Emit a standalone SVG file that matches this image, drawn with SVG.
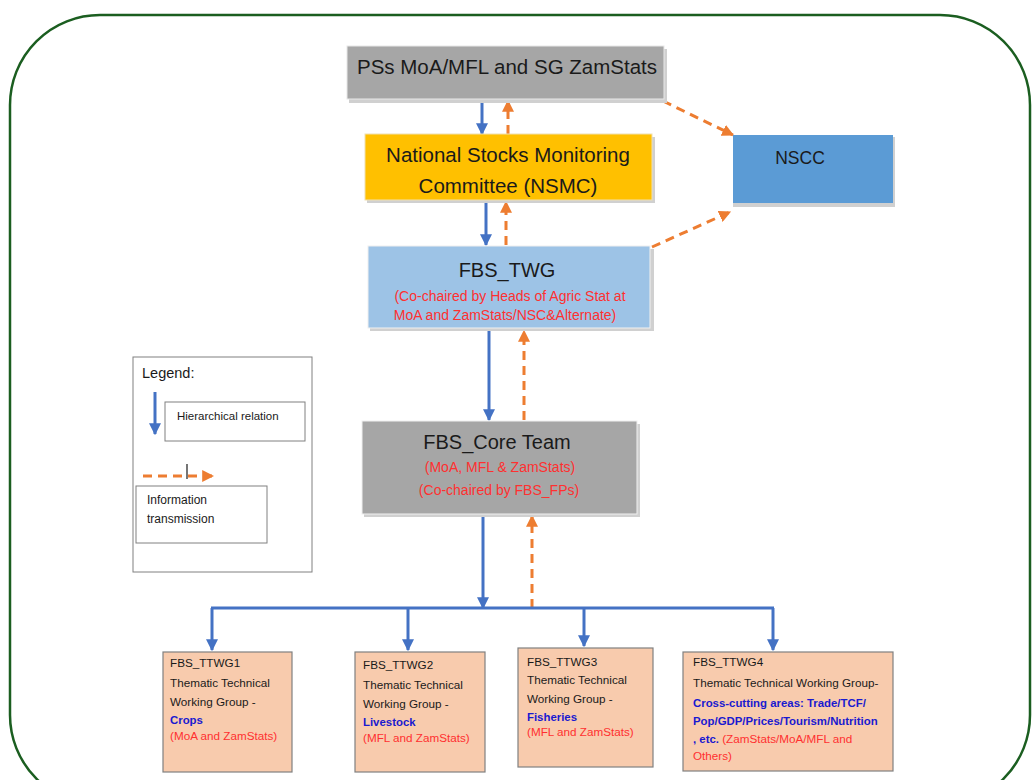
<svg xmlns="http://www.w3.org/2000/svg" width="1036" height="780" viewBox="0 0 1036 780">
<defs>
<marker id="ab" viewBox="0 0 10 10" refX="9" refY="5" markerWidth="4" markerHeight="4" orient="auto" markerUnits="strokeWidth"><path d="M0,0 L10,5 L0,10 z" fill="#4472c4"/></marker>
<marker id="ao" viewBox="0 0 10 10" refX="9" refY="5" markerWidth="4" markerHeight="4" orient="auto" markerUnits="strokeWidth"><path d="M0,0 L10,5 L0,10 z" fill="#ed7d31"/></marker>
</defs>
<style>
text{font-family:"Liberation Sans",Arial,sans-serif;}
.hier{stroke:#4472c4;stroke-width:3;fill:none;}
.info{stroke:#ed7d31;stroke-width:3;fill:none;stroke-dasharray:9 6;}
.title{font-size:20.5px;fill:#1a1a1a;text-anchor:middle;}
.big{font-size:20px;fill:#1a1a1a;text-anchor:middle;}
.red{font-size:14px;fill:#ff3030;text-anchor:middle;}
.sm{font-size:11.7px;fill:#1a1a1a;}
.smb{font-size:11.4px;fill:#1a1ad0;font-weight:bold;}
.smr{fill:#ff3030;font-weight:normal;}
.wg{fill:#f8cbad;stroke:#808080;stroke-width:1.2;}
.shadow{fill:#d0d0d0;}
</style>
<rect x="10" y="15" width="1020" height="790" rx="90" ry="90" fill="#ffffff" stroke="#1b5e20" stroke-width="2.5"/>

<g id="connectors">
<line class="hier" x1="482" y1="101" x2="482" y2="134" marker-end="url(#ab)"/>
<line class="info" x1="508" y1="134" x2="508" y2="101" marker-end="url(#ao)"/>
<line class="hier" x1="486" y1="202" x2="486" y2="245" marker-end="url(#ab)"/>
<line class="info" x1="506" y1="245" x2="506" y2="202" marker-end="url(#ao)"/>
<line class="info" x1="663" y1="101" x2="733" y2="135" marker-end="url(#ao)"/>
<line class="info" x1="652" y1="247" x2="730" y2="212" marker-end="url(#ao)"/>
<line class="hier" x1="489" y1="330" x2="489" y2="420" marker-end="url(#ab)"/>
<line class="info" x1="524" y1="420" x2="524" y2="331" marker-end="url(#ao)"/>
<line class="hier" x1="483" y1="515" x2="483" y2="608" marker-end="url(#ab)"/>
<line class="info" x1="532" y1="608" x2="532" y2="516" marker-end="url(#ao)"/>
<line class="hier" x1="211" y1="608" x2="774" y2="608"/>
<line class="hier" x1="212" y1="608" x2="212" y2="650" marker-end="url(#ab)"/>
<line class="hier" x1="408" y1="608" x2="408" y2="650" marker-end="url(#ab)"/>
<line class="hier" x1="584" y1="608" x2="584" y2="646" marker-end="url(#ab)"/>
<line class="hier" x1="773" y1="608" x2="773" y2="650" marker-end="url(#ab)"/>
</g>

<g id="pss">
<rect class="shadow" x="349" y="49" width="318" height="54"/>
<rect x="347" y="46" width="317" height="53" fill="#a6a6a6" stroke="#e8e8e8" stroke-width="1"/>
<text class="title" x="507" y="74" font-size="19.5">PSs MoA/MFL and SG ZamStats</text>
</g>

<g id="nsmc">
<rect class="shadow" x="367" y="137" width="288" height="66"/>
<rect x="365" y="134" width="287" height="66" fill="#ffc000" stroke="#f0e0b0" stroke-width="1"/>
<text class="title" x="508" y="162">National Stocks Monitoring</text>
<text class="title" x="508" y="193">Committee (NSMC)</text>
</g>

<g id="nscc">
<rect class="shadow" x="733" y="137" width="162" height="70"/>
<rect x="733" y="135" width="160" height="68" fill="#5b9bd5"/>
<text x="800" y="164" font-size="17.5" fill="#1a1a1a" text-anchor="middle">NSCC</text>
</g>

<g id="fbs_twg">
<rect class="shadow" x="370" y="249" width="284" height="82"/>
<rect x="368" y="246" width="282" height="82" fill="#9dc3e6" stroke="#f0f0f0" stroke-width="1"/>
<text class="big" x="507" y="277">FBS_TWG</text>
<text class="red" x="510" y="301">(Co-chaired by Heads of Agric Stat at</text>
<text class="red" x="505" y="320">MoA and ZamStats/NSC&amp;Alternate)</text>
</g>

<g id="core">
<rect class="shadow" x="364" y="424" width="276" height="93"/>
<rect x="362" y="421" width="275" height="93" fill="#a6a6a6" stroke="#f0f0f0" stroke-width="1"/>
<text class="big" x="497" y="449">FBS_Core Team</text>
<text class="red" x="500" y="472" font-size="13.5">(MoA, MFL &amp; ZamStats)</text>
<text class="red" x="499" y="495" font-size="13.5">(Co-chaired by FBS_FPs)</text>
</g>

<g id="legend">
<rect x="133" y="357" width="179" height="215" fill="#ffffff" stroke="#808080" stroke-width="1"/>
<text x="142" y="378" font-size="14.5" fill="#1a1a1a">Legend:</text>
<line class="hier" x1="155" y1="392" x2="155" y2="434" marker-end="url(#ab)"/>
<rect x="165" y="402" width="140" height="39" fill="#ffffff" stroke="#808080" stroke-width="1"/>
<text x="177" y="420" font-size="11.5" fill="#1a1a1a">Hierarchical relation</text>
<line class="info" x1="143" y1="476" x2="213" y2="476" stroke-width="2" marker-end="url(#ao)"/>
<line x1="187" y1="464" x2="187" y2="479" stroke="#1a1a1a" stroke-width="1.2"/>
<rect x="136" y="486" width="131" height="57" fill="#ffffff" stroke="#808080" stroke-width="1"/>
<text x="147" y="504" font-size="12" fill="#1a1a1a">Information</text>
<text x="147" y="523" font-size="12" fill="#1a1a1a">transmission</text>
</g>

<g id="ttwg1">
<rect class="wg" x="163" y="652" width="129" height="120"/>
<text class="sm" x="170" y="667">FBS_TTWG1</text>
<text class="sm" x="170" y="687">Thematic Technical</text>
<text class="sm" x="170" y="706">Working Group -</text>
<text class="smb" x="170" y="724">Crops</text>
<text class="sm smr" x="170" y="740">(MoA and ZamStats)</text>
</g>

<g id="ttwg2">
<rect class="wg" x="355" y="652" width="130" height="120"/>
<text class="sm" x="363" y="669">FBS_TTWG2</text>
<text class="sm" x="363" y="689">Thematic Technical</text>
<text class="sm" x="363" y="708">Working Group -</text>
<text class="smb" x="363" y="726">Livestock</text>
<text class="sm smr" x="363" y="742">(MFL and ZamStats)</text>
</g>

<g id="ttwg3">
<rect class="wg" x="518" y="648" width="135" height="119"/>
<text class="sm" x="527" y="666">FBS_TTWG3</text>
<text class="sm" x="527" y="684">Thematic Technical</text>
<text class="sm" x="527" y="703">Working Group -</text>
<text class="smb" x="527" y="721">Fisheries</text>
<text class="sm smr" x="527" y="736">(MFL and ZamStats)</text>
</g>

<g id="ttwg4">
<rect class="wg" x="683" y="652" width="210" height="119"/>
<text class="sm" x="693" y="666">FBS_TTWG4</text>
<text class="sm" x="693" y="687">Thematic Technical Working Group-</text>
<text class="smb" x="693" y="707">Cross-cutting areas: Trade/TCF/</text>
<text class="smb" x="693" y="725">Pop/GDP/Prices/Tourism/Nutrition</text>
<text class="smb" x="693" y="743">, etc. <tspan class="smr" font-size="11.7">(ZamStats/MoA/MFL and</tspan></text>
<text class="sm smr" x="693" y="760">Others)</text>
</g>
</svg>
